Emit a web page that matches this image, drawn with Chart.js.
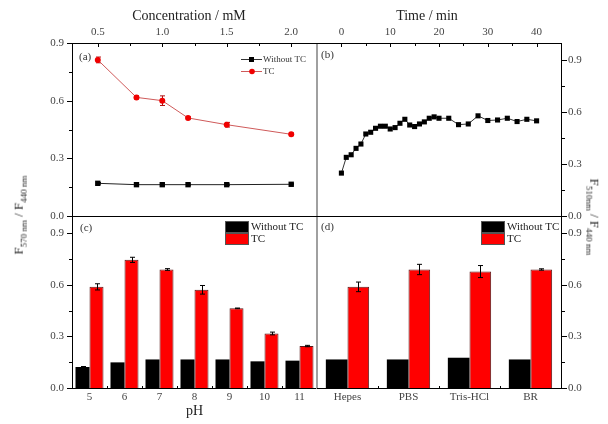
<!DOCTYPE html>
<html>
<head>
<meta charset="utf-8">
<script src="https://cdn.jsdelivr.net/npm/chart.js@4.4.1/dist/chart.umd.min.js"></script>
<style>
    html, body { margin: 0; padding: 0; background: #fff; }
    #wrap { position: relative; width: 608px; height: 424px; overflow: hidden; font-family: 'Liberation Serif', serif; }
    #wrap canvas { position: absolute; left: 0; top: 0; }
    .ytitle { position: absolute; white-space: nowrap; font-size: 13px; color: #222; line-height: 1; }
    .ytitle sub { font-size: 9px; }
    #leftTitle { left: 20px; top: 215px; transform: translate(-50%, -50%) rotate(-90deg); }
    #rightTitle { left: 593px; top: 217px; transform: translate(-50%, -50%) rotate(90deg); }
</style>
</head>
<body>
<div id="wrap">
    <canvas id="chartA" width="608" height="424"></canvas>
    <canvas id="chartB" width="608" height="424"></canvas>
    <canvas id="chartC" width="608" height="424"></canvas>
    <canvas id="chartD" width="608" height="424"></canvas>
    <div class="ytitle" id="leftTitle">F<sub>570 nm</sub> / F<sub>440 nm</sub></div>
    <div class="ytitle" id="rightTitle">F<sub>510nm</sub> / F<sub>440 nm</sub></div>
</div>
<script>
// (a) concentration
var concValues = [0.5, 0.8, 1.0, 1.2, 1.5, 2.0];
var concWithout = [0.170, 0.163, 0.163, 0.163, 0.163, 0.165];
var concWithoutErr = [0.004, 0.004, 0.004, 0.003, 0.003, 0.003];
var concTC = [0.812, 0.617, 0.600, 0.510, 0.475, 0.425];
var concTCErr = [0.015, 0.008, 0.025, 0.006, 0.012, 0.007];

// (b) time
var timeMin = [0, 1, 2, 3, 4, 5, 6, 7, 8, 9, 10, 11, 12, 13, 14, 15, 16, 17, 18, 19, 20,
    22, 24, 26, 28, 30, 32, 34, 36, 38, 40];
var timeRatio = [0.248, 0.339, 0.354, 0.391, 0.416, 0.474, 0.484, 0.507, 0.519, 0.519, 0.503,
    0.511, 0.536, 0.559, 0.526, 0.517, 0.532, 0.544, 0.565, 0.573, 0.565,
    0.565, 0.528, 0.532, 0.579, 0.552, 0.555, 0.565, 0.546, 0.559, 0.550];

// (c) pH
var phLabels = ["5", "6", "7", "8", "9", "10", "11"];
var phWithout = [0.122, 0.149, 0.166, 0.166, 0.166, 0.155, 0.159];
var phWithoutErr = [0.003, 0, 0, 0, 0, 0, 0];
var phTC = [0.588, 0.745, 0.689, 0.571, 0.463, 0.317, 0.244];
var phTCErr = [0.018, 0.015, 0.005, 0.025, 0.002, 0.008, 0.004];

// (d) buffers
var bufferLabels = ["Hepes", "PBS", "Tris-HCl", "BR"];
var bufferWithout = [0.166, 0.166, 0.176, 0.166];
var bufferTC = [0.588, 0.689, 0.677, 0.689];
var bufferTCErr = [0.028, 0.030, 0.035, 0.004];

// ticks
var ratioTicks = [0, 0.3, 0.6, 0.9];
var ratioMinor = [0.15, 0.45, 0.75];
var concTicks = [0.5, 1.0, 1.5, 2.0];
var concMinor = [0.75, 1.25, 1.75];
var timeTicks = [0, 10, 20, 30, 40];
var timeMinor = [5, 15, 25, 35];

Chart.defaults.font.family = "'Liberation Serif', serif";
Chart.defaults.color = "#444";

var GRAY = "#a0a0a0";

function fixTicks(list) {
    return function (scale) {
        scale.ticks = list.map(function (v) { return { value: v }; });
    };
}

function oneDecimal(v) {
    return Number(v).toFixed(1);
}

function drawErrors(chart, list) {
    var ctx = chart.ctx;
    ctx.save();
    list.forEach(function (e) {
        var meta = chart.getDatasetMeta(e.dataset);
        var ys = chart.scales.y;
        var vals = chart.data.datasets[e.dataset].data;
        ctx.strokeStyle = e.color;
        ctx.lineWidth = 1;
        meta.data.forEach(function (el, i) {
            if (!e.err[i]) return;
            var v = typeof vals[i] === "object" ? vals[i].y : vals[i];
            var x = Math.round(el.x) + 0.5;
            var y1 = ys.getPixelForValue(v + e.err[i]);
            var y2 = ys.getPixelForValue(v - e.err[i]);
            ctx.beginPath();
            ctx.moveTo(x, y1); ctx.lineTo(x, y2);
            ctx.moveTo(x - 2.5, y1); ctx.lineTo(x + 2.5, y1);
            ctx.moveTo(x - 2.5, y2); ctx.lineTo(x + 2.5, y2);
            ctx.stroke();
        });
    });
    ctx.restore();
}

function decor(cfg) {
    return {
        id: "decor",
        // error bars under the markers of line charts, over the bars of bar charts
        beforeDatasetsDraw: function (chart) {
            if (cfg.errorsUnder) drawErrors(chart, cfg.errors || []);
        },
        afterDatasetsDraw: function (chart) {
            if (!cfg.errorsUnder) drawErrors(chart, cfg.errors || []);
        },
        afterDraw: function (chart) {
            var ctx = chart.ctx, a = chart.chartArea;
            ctx.save();
            // frame
            var f = cfg.frame;
            ctx.lineWidth = 1;
            ctx.strokeStyle = "#000";
            ctx.beginPath();
            if (f.t) { ctx.moveTo(a.left, a.top + 0.5); ctx.lineTo(a.right, a.top + 0.5); }
            if (f.b) { ctx.moveTo(a.left, a.bottom + 0.5); ctx.lineTo(a.right, a.bottom + 0.5); }
            if (f.l) { ctx.moveTo(a.left + 0.5, a.top); ctx.lineTo(a.left + 0.5, a.bottom + 1); }
            if (f.r) { ctx.moveTo(a.right + 0.5, a.top); ctx.lineTo(a.right + 0.5, a.bottom + 1); }
            ctx.stroke();
            if (f.grayRight) {
                ctx.fillStyle = GRAY;
                ctx.fillRect(a.right - 1, a.top + 1, 2, a.bottom - a.top);
            }
            // tick marks
            ctx.strokeStyle = "#000";
            (cfg.ticks || []).forEach(function (t) {
                var sc = chart.scales[t.axis];
                var marks = t.major.map(function (v) { return [v, t.len || 5]; })
                    .concat((t.minor || []).map(function (v) { return [v, 3]; }));
                marks.forEach(function (m) {
                    var p = Math.round(sc.getPixelForValue(m[0])) + 0.5;
                    var len = t.dir === "out" ? m[1] : -m[1];
                    ctx.beginPath();
                    if (t.side === "left") { ctx.moveTo(a.left, p); ctx.lineTo(a.left - len, p); }
                    else if (t.side === "right") { ctx.moveTo(a.right + 1, p); ctx.lineTo(a.right + 1 + len, p); }
                    else if (t.side === "top") { ctx.moveTo(p, a.top); ctx.lineTo(p, a.top - len); }
                    else { ctx.moveTo(p, a.bottom); ctx.lineTo(p, a.bottom + len); }
                    ctx.stroke();
                });
            });
            // legend
            (cfg.legend || []).forEach(function (it) {
                ctx.font = it.size + "px 'Liberation Serif', serif";
                ctx.textBaseline = "middle";
                ctx.textAlign = "left";
                if (it.type === "line") {
                    ctx.strokeStyle = it.line;
                    ctx.lineWidth = 1;
                    ctx.beginPath();
                    ctx.moveTo(it.x, it.y + 0.5); ctx.lineTo(it.x + 21, it.y + 0.5);
                    ctx.stroke();
                    ctx.fillStyle = it.color;
                    if (it.shape === "rect") ctx.fillRect(it.x + 8, it.y - 2, 5, 5);
                    else { ctx.beginPath(); ctx.arc(it.x + 11, it.y + 0.5, 2.8, 0, Math.PI * 2); ctx.fill(); }
                    ctx.fillStyle = "#333";
                    ctx.fillText(it.text, it.x + 22, it.y + 1);
                } else {
                    ctx.fillStyle = it.color;
                    ctx.fillRect(it.x, it.y, 24, 12);
                    ctx.strokeStyle = "#555";
                    ctx.lineWidth = 1;
                    ctx.strokeRect(it.x + 0.5, it.y + 0.5, 23, 11);
                    ctx.fillStyle = "#222";
                    ctx.fillText(it.text, it.x + 26, it.y + 6.5);
                }
            });
            // axis title placed off-centre like the original
            if (cfg.title) {
                ctx.font = "14px 'Liberation Serif', serif";
                ctx.fillStyle = "#222";
                ctx.textAlign = "center";
                ctx.textBaseline = "middle";
                ctx.fillText(cfg.title[0], cfg.title[1], cfg.title[2]);
            }
            // panel label
            ctx.font = "11px 'Liberation Serif', serif";
            ctx.fillStyle = "#333";
            ctx.textAlign = "left";
            ctx.textBaseline = "middle";
            ctx.fillText(cfg.label[0], cfg.label[1], cfg.label[2]);
            ctx.restore();
        }
    };
}

function baseOptions(padding) {
    return {
        responsive: false,
        devicePixelRatio: 1,
        animation: false,
        layout: { padding: padding },
        plugins: { legend: { display: false }, tooltip: { enabled: false } }
    };
}

function axis(extra) {
    var base = {
        grid: { display: false, drawTicks: false },
        border: { display: false },
        ticks: { autoSkip: false, maxRotation: 0, font: { size: 11 }, color: "#444" }
    };
    for (var k in extra) {
        if (k === "ticks") {
            for (var t in extra.ticks) base.ticks[t] = extra.ticks[t];
        } else {
            base[k] = extra[k];
        }
    }
    return base;
}

// ---------- (a) ----------
var optsA = baseOptions({ left: 0, top: 0, right: 291, bottom: 208 });
optsA.scales = {
    x: axis({
        type: "linear", position: "top", min: 0.3, max: 2.2,
        ticks: { padding: 4, callback: oneDecimal },
        afterBuildTicks: fixTicks(concTicks),
        afterFit: function (s) { s.height = 43; }
    }),
    y: axis({
        position: "left", min: 0, max: 0.9,
        ticks: { padding: 8, callback: oneDecimal },
        afterBuildTicks: fixTicks(ratioTicks),
        afterFit: function (s) { s.width = 72; }
    })
};
new Chart(document.getElementById("chartA"), {
    type: "line",
    data: {
        datasets: [
            {
                label: "Without TC",
                data: concValues.map(function (x, i) { return { x: x, y: concWithout[i] }; }),
                borderColor: "#222", borderWidth: 1,
                pointStyle: "rect", pointRadius: 3.8,
                pointBackgroundColor: "#000", pointBorderColor: "#000", pointBorderWidth: 0
            },
            {
                label: "TC",
                data: concValues.map(function (x, i) { return { x: x, y: concTC[i] }; }),
                borderColor: "#cf5a5a", borderWidth: 1,
                pointStyle: "circle", pointRadius: 3,
                pointBackgroundColor: "#f00000", pointBorderColor: "#f00000", pointBorderWidth: 0
            }
        ]
    },
    options: optsA,
    plugins: [decor({
        frame: { t: 1, b: 1, l: 1, grayRight: 1 },
        ticks: [
            { axis: "y", side: "left", dir: "out", major: ratioTicks, minor: ratioMinor },
            { axis: "x", side: "top", dir: "in", major: concTicks, minor: concMinor, len: 4 }
        ],
        errorsUnder: true,
        errors: [
            { dataset: 0, err: concWithoutErr, color: "#000" },
            { dataset: 1, err: concTCErr, color: "#b01010" }
        ],
        legend: [
            { type: "line", shape: "rect", line: "#333", color: "#000", text: "Without TC", x: 241, y: 59, size: 9 },
            { type: "line", shape: "circle", line: "#cf5a5a", color: "#f00000", text: "TC", x: 241, y: 71, size: 9 }
        ],
        title: ["Concentration / mM", 189, 16],
        label: ["(a)", 79, 57]
    })]
});

// ---------- (b) ----------
var optsB = baseOptions({ left: 317, top: 0, right: 0, bottom: 208 });
optsB.scales = {
    x: axis({
        type: "linear", position: "top", min: -5, max: 45,
        ticks: { padding: 4 },
        afterBuildTicks: fixTicks(timeTicks),
        afterFit: function (s) { s.height = 43; }
    }),
    y: axis({
        position: "right", min: 0, max: 1.0,
        ticks: { padding: 7, callback: oneDecimal },
        afterBuildTicks: fixTicks(ratioTicks),
        afterFit: function (s) { s.width = 47; }
    })
};
new Chart(document.getElementById("chartB"), {
    type: "line",
    data: {
        datasets: [{
            label: "Time",
            data: timeMin.map(function (t, i) { return { x: t, y: timeRatio[i] }; }),
            borderColor: "#333", borderWidth: 1,
            pointStyle: "rect", pointRadius: 3.6,
            pointBackgroundColor: "#000", pointBorderColor: "#000", pointBorderWidth: 0
        }]
    },
    options: optsB,
    plugins: [decor({
        frame: { t: 1, b: 1, r: 1 },
        ticks: [
            { axis: "y", side: "right", dir: "out", major: ratioTicks, minor: ratioMinor },
            { axis: "x", side: "top", dir: "in", major: timeTicks, minor: timeMinor, len: 4 }
        ],
        title: ["Time / min", 427, 16],
        label: ["(b)", 321, 55]
    })]
});

// ---------- (c) ----------
var optsC = baseOptions({ left: 0, top: 216, right: 291, bottom: 0 });
optsC.scales = {
    x: axis({
        position: "bottom",
        ticks: { padding: 3 },
        afterFit: function (s) { s.height = 36; },
        title: { display: true, text: "pH", font: { size: 14 }, color: "#222", padding: { top: 0, bottom: 4 } }
    }),
    y: axis({
        position: "left", min: 0, max: 1.0,
        ticks: { padding: 8, callback: oneDecimal },
        afterBuildTicks: fixTicks(ratioTicks),
        afterFit: function (s) { s.width = 72; }
    })
};
new Chart(document.getElementById("chartC"), {
    type: "bar",
    data: {
        labels: phLabels,
        datasets: [
            { label: "Without TC", data: phWithout, backgroundColor: "#000", borderWidth: 0, barPercentage: 1, categoryPercentage: 0.8 },
            { label: "TC", data: phTC, backgroundColor: "#ff0000", borderColor: "#5a1a1a", borderWidth: 1, barPercentage: 1, categoryPercentage: 0.8 }
        ]
    },
    options: optsC,
    plugins: [decor({
        frame: { t: 1, b: 1, l: 1, grayRight: 1 },
        ticks: [
            { axis: "y", side: "left", dir: "out", major: ratioTicks, minor: ratioMinor },
            { axis: "x", side: "bottom", dir: "in", major: [0.5, 1.5, 2.5, 3.5, 4.5, 5.5], len: 2 }
        ],
        errors: [
            { dataset: 0, err: phWithoutErr, color: "#000" },
            { dataset: 1, err: phTCErr, color: "#000" }
        ],
        legend: [
            { type: "box", color: "#000", text: "Without TC", x: 225, y: 221, size: 11 },
            { type: "box", color: "#ff0000", text: "TC", x: 225, y: 233, size: 11 }
        ],
        label: ["(c)", 80, 228]
    })]
});

// ---------- (d) ----------
var optsD = baseOptions({ left: 317, top: 216, right: 0, bottom: 0 });
optsD.scales = {
    x: axis({
        position: "bottom",
        ticks: { padding: 3 },
        afterFit: function (s) { s.height = 36; }
    }),
    y: axis({
        position: "right", min: 0, max: 1.0,
        ticks: { padding: 7, callback: oneDecimal },
        afterBuildTicks: fixTicks(ratioTicks),
        afterFit: function (s) { s.width = 47; }
    })
};
new Chart(document.getElementById("chartD"), {
    type: "bar",
    data: {
        labels: bufferLabels,
        datasets: [
            { label: "Without TC", data: bufferWithout, backgroundColor: "#000", borderWidth: 0, barPercentage: 1, categoryPercentage: 0.71 },
            { label: "TC", data: bufferTC, backgroundColor: "#ff0000", borderColor: "#5a1a1a", borderWidth: 1, barPercentage: 1, categoryPercentage: 0.71 }
        ]
    },
    options: optsD,
    plugins: [decor({
        frame: { t: 1, b: 1, r: 1 },
        ticks: [
            { axis: "y", side: "right", dir: "out", major: ratioTicks, minor: ratioMinor },
            { axis: "x", side: "bottom", dir: "in", major: [0.5, 1.5, 2.5], len: 2 }
        ],
        errors: [
            { dataset: 1, err: bufferTCErr, color: "#000" }
        ],
        legend: [
            { type: "box", color: "#000", text: "Without TC", x: 481, y: 221, size: 11 },
            { type: "box", color: "#ff0000", text: "TC", x: 481, y: 233, size: 11 }
        ],
        label: ["(d)", 321, 227]
    })]
});
</script>
</body>
</html>
